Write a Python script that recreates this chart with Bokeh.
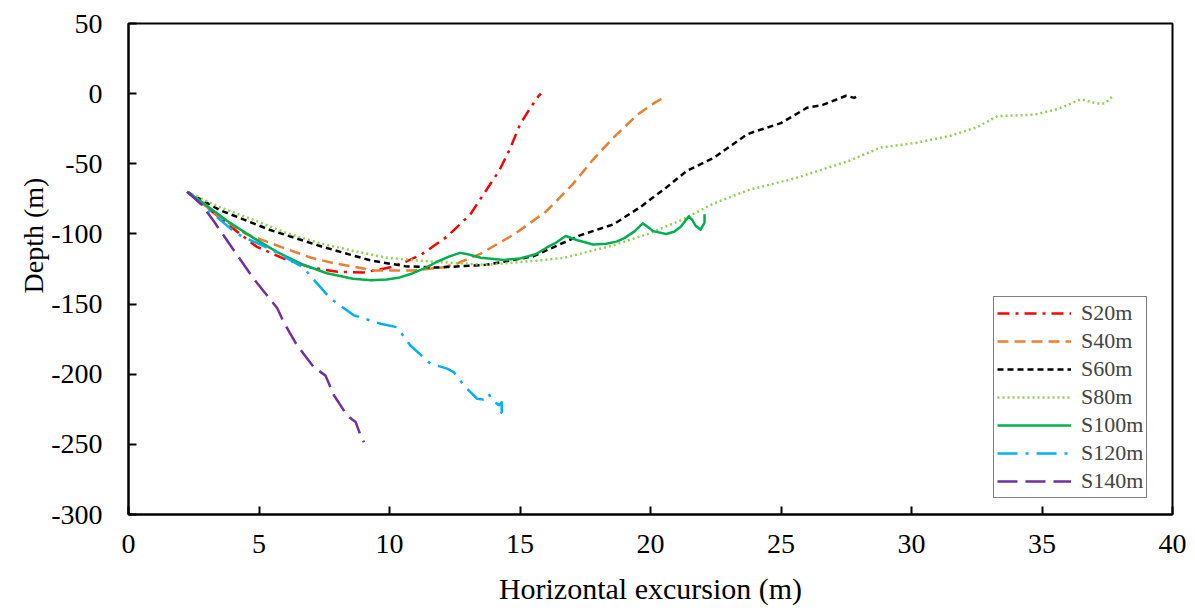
from bokeh.plotting import figure
from bokeh.models import Legend, LegendItem, Title, FixedTicker, Range1d
from bokeh.embed import file_html
from bokeh.resources import INLINE

# Horizontal excursion (m) and depth (m) of each trajectory
x20 = [2.25, 3.0, 4.0, 4.9, 6.0, 7.0, 8.0, 9.0, 10.0, 10.6, 11.2, 12.2, 13.1, 13.7, 14.2, 14.6, 15.0, 15.4, 15.7, 15.8]
y20 = [-70, -81, -96, -109, -118, -124, -127, -127.5, -124, -120, -115, -102, -86, -69, -55, -40, -22, -10, -2, 0]

x40 = [2.25, 3.5, 4.5, 5.8, 7.0, 7.9, 9.4, 10.9, 12.0, 12.6, 13.5, 14.8, 16.0, 17.0, 17.8, 18.6, 19.5, 20.2, 20.6]
y40 = [-70, -88, -100, -109, -117, -121, -126, -126, -124, -121, -114, -100, -84, -65, -47, -31, -15, -6, -2]

x60 = [2.25, 3.5, 5.4, 7.4, 9.3, 10.6, 11.8, 13.7, 15.5, 17.3, 18.6, 19.6, 20.6, 21.4, 22.4, 23.7, 24.0, 25.0, 26.0, 26.6, 27.5, 27.8, 28.0]
y60 = [-70, -83, -97, -109, -119, -123, -124, -122, -116, -101, -93, -81, -67, -55, -46, -29, -27, -21, -10, -8, -1.5, -3, -1]

x80 = [2.25, 3.5, 4.8, 6.0, 7.4, 8.6, 9.9, 11.8, 13.7, 15.7, 16.7, 18.6, 19.9, 21.2, 22.4, 23.7, 25.6, 27.6, 28.8, 30.2, 31.5, 32.5, 33.3, 34.7, 35.6, 36.5, 37.1, 37.4, 37.7]
y80 = [-70, -81, -90, -99, -107, -112, -117, -120, -122, -119, -117, -108, -100, -90, -78.5, -69, -60, -48, -38.5, -35, -30, -24, -16, -15, -11, -4, -7, -7, -2]

x100 = [2.25, 2.8, 3.8, 4.8, 5.7, 6.7, 7.6, 8.6, 9.3, 9.9, 10.4, 10.9, 11.4, 11.8, 12.3, 12.7, 13.0, 13.5, 14.4, 15.0, 15.6, 16.0, 16.4, 16.75, 17.2, 17.8, 18.3, 18.7, 19.0, 19.4, 19.7, 19.9, 20.1, 20.6, 20.9, 21.15, 21.47, 21.6, 21.72, 21.92, 22.07, 22.07]
y100 = [-70, -77, -91, -103, -113, -122, -128, -132, -133, -132.5, -131, -128, -124, -120, -116, -113.5, -114.5, -117, -118.5, -117.5, -114.5, -110, -106, -101.5, -104.5, -107.5, -107, -105.5, -103, -98, -92.5, -95, -98, -100, -98.5, -95, -87.5, -90, -94, -97, -92, -86]

x120 = [2.25, 3.0, 4.16, 5.44, 6.72, 6.97, 7.74, 8.63, 9.66, 10.29, 10.8, 11.57, 12.21, 12.46, 12.85, 13.36, 13.6, 13.8, 13.95, 14.2, 14.3, 14.3, 14.2]
y120 = [-70, -82, -100, -111, -124, -130, -146, -158, -164, -166.5, -179.5, -192.5, -196, -198.5, -208, -217.5, -218, -214, -219, -222, -220, -227, -229.5]

x140 = [2.25, 2.8, 3.27, 4.16, 4.8, 5.7, 5.95, 6.46, 7.1, 7.55, 7.87, 8.38, 8.7, 8.89, 9.02]
y140 = [-70, -79, -91, -115, -132, -153, -163, -179.5, -195, -201, -215, -229.5, -234, -243.5, -248.5]

names = ["S20m", "S40m", "S60m", "S80m", "S100m", "S120m", "S140m"]
xs = [x20, x40, x60, x80, x100, x120, x140]
ys = [y20, y40, y60, y80, y100, y120, y140]
colors = ["#FF0000", "#ED7D31", "#000000", "#92D050", "#00B050", "#00B0F0", "#7030A0"]
dashes = ["12 6 3 6", "11 6", "6 4", "2 3", "solid", "20 8 3 8", "20 8"]

x_ticks = [0, 5, 10, 15, 20, 25, 30, 35, 40]
y_ticks = [-300, -250, -200, -150, -100, -50, 0, 50]

FONT = "Liberation Serif"

p = figure(width=1195, height=610, output_backend="svg", toolbar_location=None,
           x_range=Range1d(0, 40), y_range=Range1d(-300, 50),
           min_border_left=128, min_border_right=23, min_border_top=23, min_border_bottom=96)
p.background_fill_color = "white"
p.border_fill_color = "white"
p.outline_line_color = "black"
p.outline_line_width = 2
p.xgrid.grid_line_color = None
p.ygrid.grid_line_color = None

for ax, ticks in ((p.xaxis[0], x_ticks), (p.yaxis[0], y_ticks)):
    ax.ticker = FixedTicker(ticks=ticks)
    ax.major_label_overrides = {t: str(t) for t in ticks}
    ax.minor_tick_line_color = None
    ax.major_tick_in = 8
    ax.major_tick_out = 0
    ax.major_tick_line_width = 2
    ax.axis_line_width = 2
    ax.major_label_text_font = FONT
    ax.major_label_text_font_size = "28px"
    ax.major_label_text_color = "black"

p.xaxis.major_label_standoff = 20
p.yaxis.major_label_standoff = 26
p.xaxis.axis_label = "Horizontal excursion (m)"
p.xaxis.axis_label_text_font = FONT
p.xaxis.axis_label_text_font_size = "30px"
p.xaxis.axis_label_text_font_style = "normal"
p.xaxis.axis_label_text_color = "black"
p.xaxis.axis_label_standoff = 16

# Vertical axis title, placed a little above the middle of the axis
ytitle = Title(text="Depth (m)", align="left", offset=221, text_font=FONT,
               text_font_size="28px", text_font_style="normal", text_color="black",
               standoff=0)
p.add_layout(ytitle, "left")

items = []
for name, x, y, c, d in zip(names, xs, ys, colors, dashes):
    r = p.line(x, y, line_color=c, line_width=2.5, line_dash=d, line_join="round")
    items.append(LegendItem(label=name, renderers=[r]))

legend = Legend(items=items, location=(865, 16), orientation="vertical",
                label_text_font=FONT, label_text_font_size="22px",
                glyph_width=74, glyph_height=22, label_height=22, spacing=2,
                padding=3, margin=0, label_standoff=10,
                border_line_color="black", border_line_width=1.5,
                background_fill_color="white", background_fill_alpha=1.0)
p.add_layout(legend)

open("out.html", "w").write(file_html(p, INLINE))
